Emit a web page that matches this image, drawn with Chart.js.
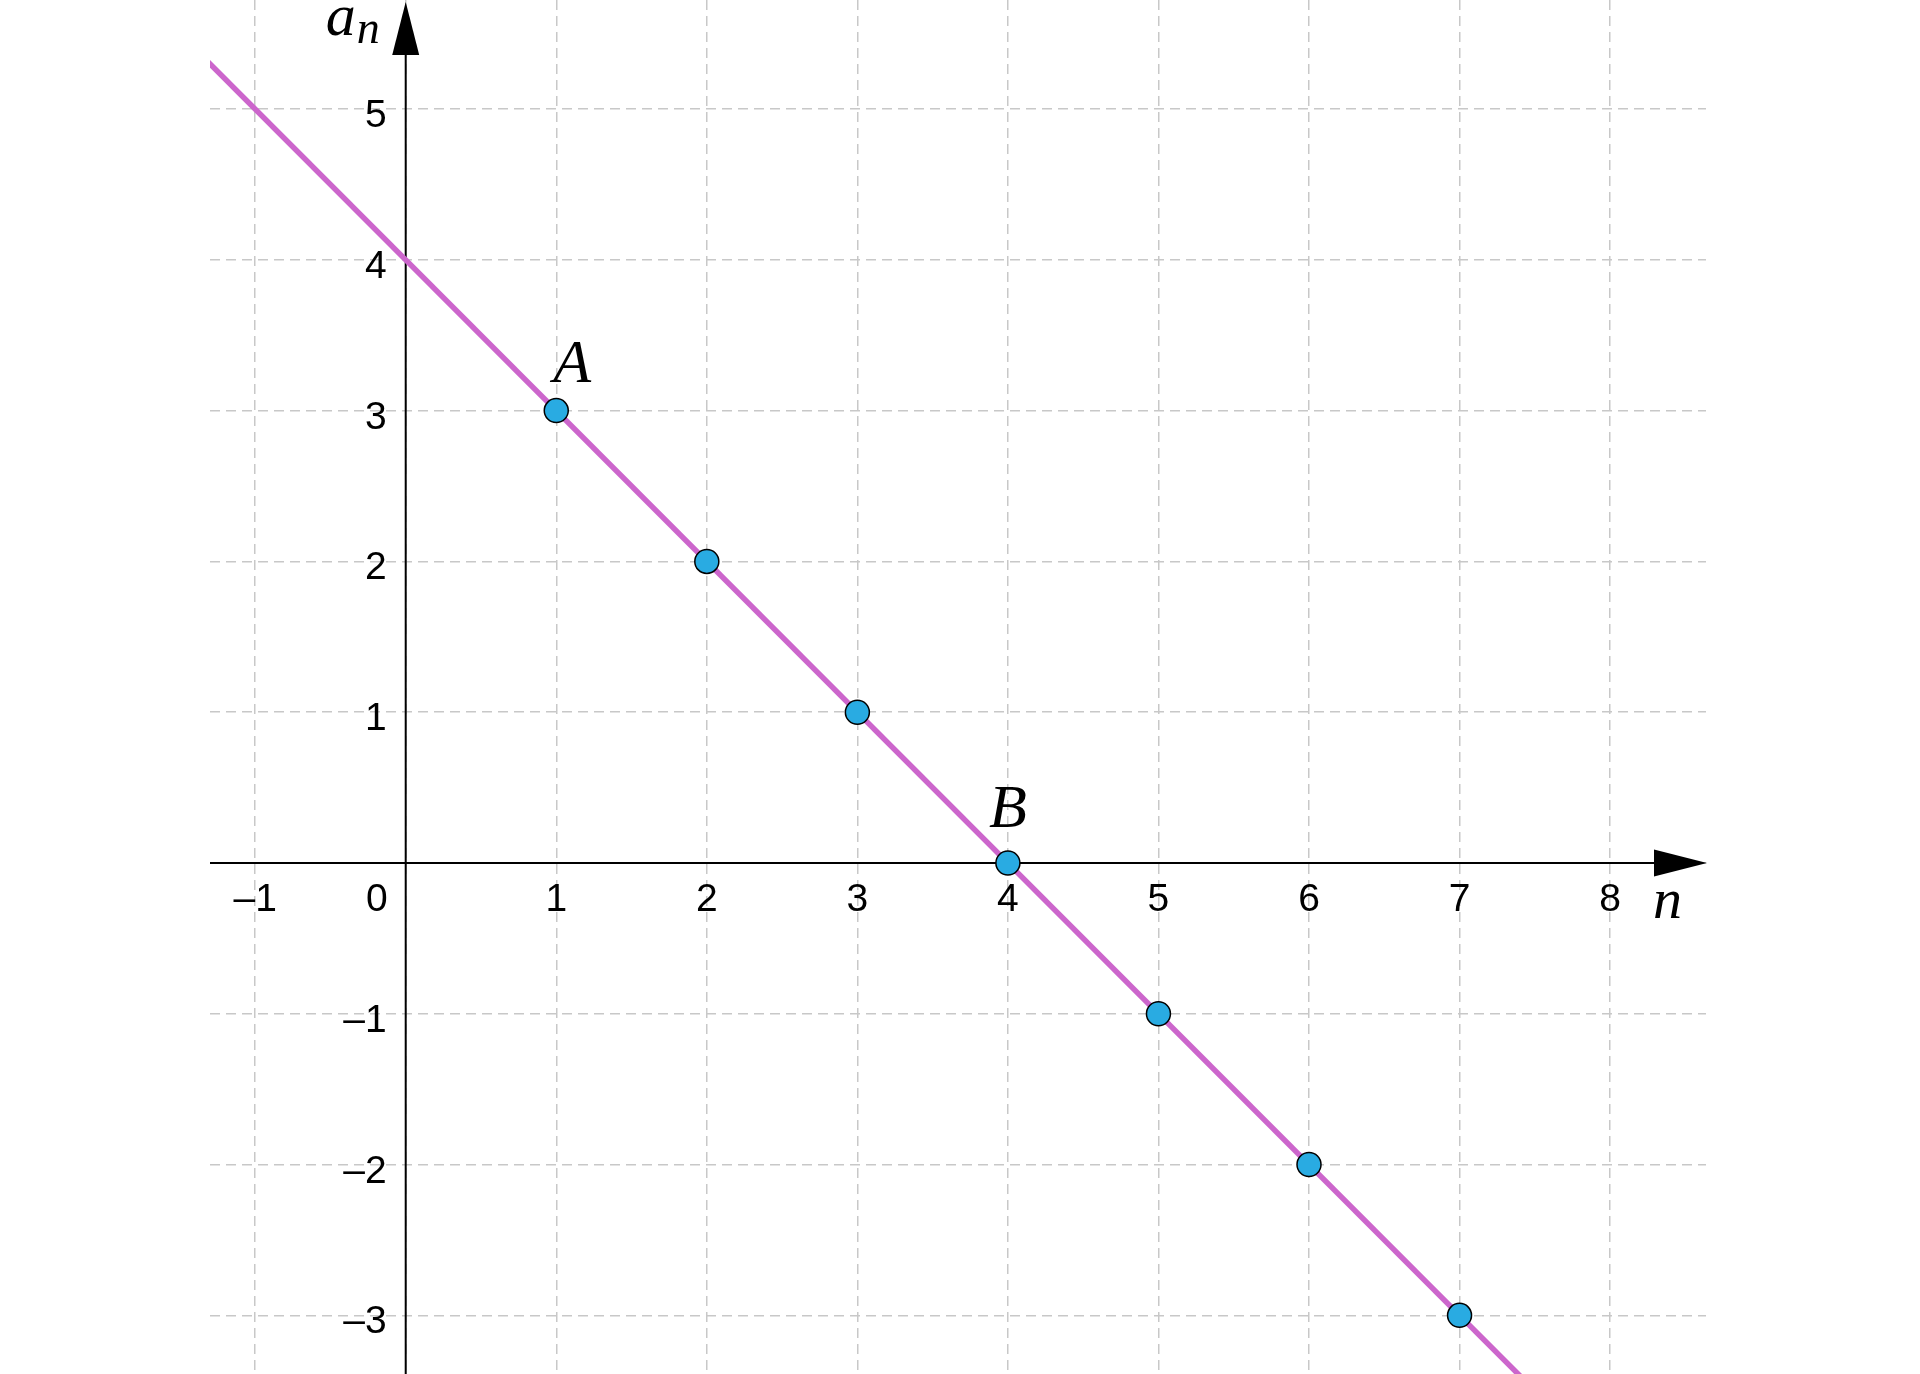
<!DOCTYPE html>
<html>
<head>
<meta charset="utf-8">
<script src="https://cdn.jsdelivr.net/npm/chart.js@4.4.1/dist/chart.umd.min.js"></script>
<style>
  html, body { margin: 0; padding: 0; background: #fff; }
  canvas { display: block; }
</style>
</head>
<body>
<canvas id="chart" width="1920" height="1374"></canvas>
<script>
// sequence terms a_n
const seqN = [1, 2, 3, 4, 5, 6, 7];
const seqA = [3, 2, 1, 0, -1, -2, -3];
// the straight line through the terms (two far endpoints, clipped to the plot)
const lineN = [-2, 9];
const lineA = [6, -5];
// tick labels
const xTicks = [-1, 0, 1, 2, 3, 4, 5, 6, 7, 8];
const yTicks = [-3, -2, -1, 1, 2, 3, 4, 5];
// visible window
const xRange = [-1.3, 8.637];
const yRange = [-3.389, 5.723];
// named points
const pointNames = ['A', 'B'];
const pointNameN = [1, 4];
const pointNameA = [3, 0];

const fmt = v => (v < 0 ? '\u2013' + Math.abs(v) : String(v));

const axesPlugin = {
  id: 'axes',
  beforeDatasetsDraw(chart) {
    const { ctx, chartArea: area, scales: { x, y } } = chart;
    const x0 = x.getPixelForValue(0);
    const y0 = y.getPixelForValue(0);
    ctx.save();
    ctx.strokeStyle = '#000';
    ctx.fillStyle = '#000';
    ctx.lineWidth = 2;

    // vertical axis + arrow
    ctx.beginPath();
    ctx.moveTo(x0, area.bottom);
    ctx.lineTo(x0, area.top + 50);
    ctx.stroke();
    ctx.beginPath();
    ctx.moveTo(x0, area.top + 2);
    ctx.lineTo(x0 - 13.5, area.top + 55);
    ctx.lineTo(x0 + 13.5, area.top + 55);
    ctx.closePath();
    ctx.fill();

    // horizontal axis + arrow
    ctx.beginPath();
    ctx.moveTo(area.left, y0);
    ctx.lineTo(area.right - 50, y0);
    ctx.stroke();
    ctx.beginPath();
    ctx.moveTo(area.right + 1, y0);
    ctx.lineTo(area.right - 52, y0 - 13.5);
    ctx.lineTo(area.right - 52, y0 + 13.5);
    ctx.closePath();
    ctx.fill();

    // tick labels
    ctx.font = '39px "Liberation Sans", Arial, sans-serif';
    ctx.textBaseline = 'alphabetic';
    xTicks.forEach(v => {
      if (v === 0) {
        ctx.textAlign = 'right';
        ctx.fillText('0', x0 - 18, y0 + 48);
      } else {
        ctx.textAlign = 'center';
        ctx.fillText(fmt(v), x.getPixelForValue(v), y0 + 48);
      }
    });
    ctx.textAlign = 'right';
    yTicks.forEach(v => ctx.fillText(fmt(v), x0 - 19, y.getPixelForValue(v) + 18));

    // axis names
    ctx.textAlign = 'left';
    ctx.font = 'italic 60px "Liberation Serif", serif';
    ctx.fillText('a', x0 - 80, area.top + 35);
    const aw = ctx.measureText('a').width;
    ctx.font = 'italic 46px "Liberation Serif", serif';
    ctx.fillText('n', x0 - 80 + aw + 1, area.top + 43);
    ctx.font = 'italic 58px "Liberation Serif", serif';
    ctx.fillText('n', area.right - 53, y0 + 55);
    ctx.restore();
  },
  afterDatasetsDraw(chart) {
    const { ctx, scales: { x, y } } = chart;
    const offsets = { A: [-3, -29], B: [-19, -36] };
    ctx.save();
    ctx.fillStyle = '#000';
    ctx.font = 'italic 62px "Liberation Serif", serif';
    ctx.textAlign = 'left';
    ctx.textBaseline = 'alphabetic';
    pointNames.forEach((name, i) => {
      const px = x.getPixelForValue(pointNameN[i]);
      const py = y.getPixelForValue(pointNameA[i]);
      ctx.fillText(name, px + offsets[name][0], py + offsets[name][1]);
    });
    ctx.restore();
  }
};

const gridOpts = { color: '#c8c8c8', lineWidth: 1.5, drawTicks: false };
const borderOpts = { display: false, dash: [10, 6] };

new Chart(document.getElementById('chart').getContext('2d'), {
  type: 'scatter',
  data: {
    datasets: [
      {
        label: 'a_n',
        data: seqN.map((n, i) => ({ x: n, y: seqA[i] })),
        backgroundColor: '#29abe2',
        borderColor: '#000',
        borderWidth: 1.5,
        pointRadius: 12,
        pointHoverRadius: 12,
        order: 1
      },
      {
        label: 'line',
        data: lineN.map((n, i) => ({ x: n, y: lineA[i] })),
        showLine: true,
        borderColor: '#cc66cc',
        borderWidth: 5.5,
        pointRadius: 0,
        order: 2
      }
    ]
  },
  options: {
    responsive: false,
    animation: false,
    layout: { autoPadding: false, padding: { left: 210, right: 214, top: 0, bottom: 0 } },
    plugins: { legend: { display: false }, tooltip: { enabled: false } },
    scales: {
      x: {
        type: 'linear',
        min: xRange[0],
        max: xRange[1],
        ticks: { display: false, stepSize: 1, includeBounds: false },
        grid: gridOpts,
        border: borderOpts
      },
      y: {
        type: 'linear',
        min: yRange[0],
        max: yRange[1],
        ticks: { display: false, stepSize: 1, includeBounds: false },
        grid: gridOpts,
        border: borderOpts
      }
    }
  },
  plugins: [axesPlugin]
});
</script>
</body>
</html>
